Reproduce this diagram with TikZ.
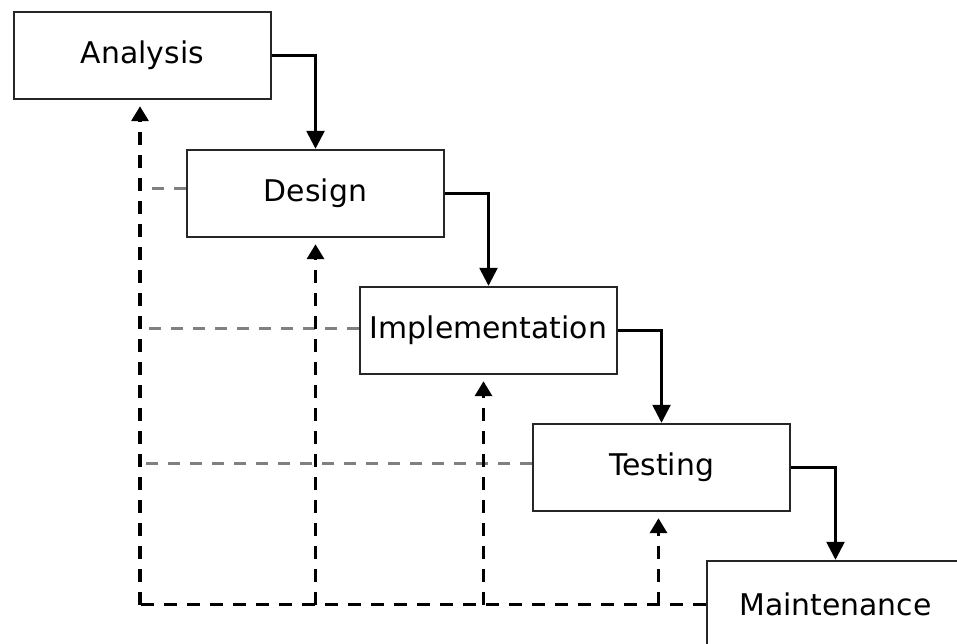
\documentclass[tikz,border=0pt]{standalone}
\usepackage{fontspec}
\setmainfont{DejaVu Sans}
\usetikzlibrary{arrows.meta}

\begin{document}
\begin{tikzpicture}[x=0.02cm,y=-0.02cm,
            stage/.style={rectangle,draw=black!85,line width=1.4pt,fill=white,
              minimum width=5.14cm,minimum height=1.74cm,inner sep=0pt,
              font=\fontsize{17}{20}\selectfont},
            flow/.style={-{Triangle[width=0.36cm,length=0.36cm]},line width=1.5pt},
            back/.style={dash pattern=on 0.24cm off 0.2cm,line width=1.4pt,black!50},
            feedback/.style={dash pattern=on 0.26cm off 0.2cm,line width=2pt},
            up/.style={feedback,-{Triangle[width=0.34cm,length=0.3cm]},shorten >=0.12cm}]

        \useasboundingbox (0,0) rectangle (957,643);
        \clip (0,0) rectangle (957,643);

        % Define stages
        \node[stage] (ana) at (142.5,55.5) {Analysis};
        \node[stage] (des) at (315.5,193.5) {Design};
        \node[stage] (imp) at (488.5,330.5) {Implementation};
        \node[stage] (tst) at (661.5,467.5) {Testing};
        \node[stage] (mnt) at (835.5,604.5) {Maintenance};

        % Points on the bottom return line
        \coordinate (ana b) at ([xshift=-0.05cm]ana.south |- mnt.west);
        \coordinate (des b) at (des.south |- mnt.west);
        \coordinate (imp b) at ([xshift=-0.1cm]imp.south |- mnt.west);
        \coordinate (tst b) at ([xshift=-0.06cm]tst.south |- mnt.west);

        % Draw edges
        \draw[flow] (ana.east) -| (des.north);
        \draw[flow] (des.east) -| (imp.north);
        \draw[flow] (imp.east) -| (tst.north);
        \draw[flow] (tst.east) -| (mnt.north);

        % Feedback lines
        \draw[back] ([yshift=0.1cm]des.west) -- ([yshift=0.1cm]des.west -| ana b);
        \draw[back] ([yshift=0.04cm]imp.west) -- ([yshift=0.04cm]imp.west -| ana b);
        \draw[back] ([yshift=0.08cm]tst.west) -- ([yshift=0.08cm]tst.west -| ana b);
        \draw[feedback] (mnt.west) -- (ana b);
        \draw[up] (ana b) -- (ana b |- ana.south);
        \draw[up] (des b) -- (des.south);
        \draw[up] (imp b) -- (imp b |- imp.south);
        \draw[up] (tst b) -- (tst b |- tst.south);

\end{tikzpicture}
\end{document}
